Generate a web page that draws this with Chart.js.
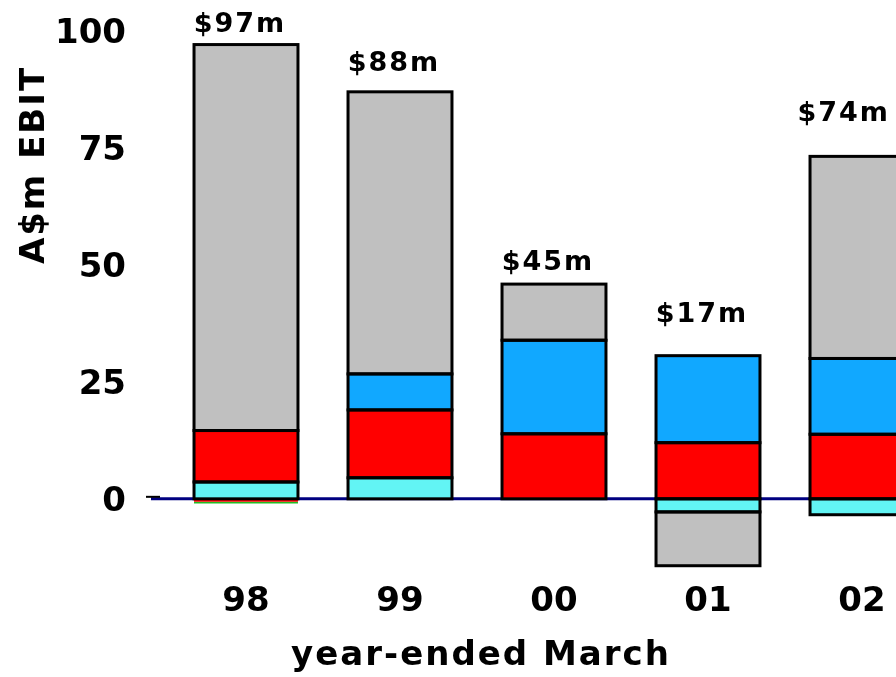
<!DOCTYPE html>
<html>
<head>
<meta charset="utf-8">
<script src="https://cdn.jsdelivr.net/npm/chart.js@4"></script>
<style>
  html, body { margin: 0; padding: 0; background: #fff; overflow: hidden; }
  #wrap { position: relative; width: 945px; height: 677px; }
</style>
</head>
<body>
<div id="wrap"><canvas id="chartEbit"></canvas></div>
<script>
// A$m EBIT por año (year-ended March), barras apiladas

const categories = ['98', '99', '00', '01', '02'];
const yTicks = [0, 25, 50, 75, 100];

// series, de abajo hacia arriba
const cyanVals   = [3.6, 4.5, 0, -2.8, -3.4];
const redVals    = [11, 14.5, 13.9, 12, 13.8];
const redNegVals = [-0.6, 0, 0, 0, 0];
const greenVals  = [-0.4, 0, 0, 0, 0];
const blueVals   = [0, 7.7, 20, 18.6, 16.2];
const greyVals   = [82.5, 60.3, 12, -11.5, 43.2];

// etiquetas de total y altura (A$m) donde van
const totalLabels = ['$97m', '$88m', '$45m', '$17m', '$74m'];
const totalLabelAt = [101.3, 93.0, 50.5, 39.3, 82.3];

const FONT = "'DejaVu Sans', Verdana, sans-serif";

/* ============================================
   PLUGIN: línea cero, contornos, totales y títulos
   ============================================ */
const decor = {
  id: 'decor',
  beforeDatasetsDraw(chart) {
    const { ctx } = chart;
    const y0 = chart.scales.y.getPixelForValue(0);
    ctx.save();
    ctx.strokeStyle = '#000080';
    ctx.lineWidth = 3;
    ctx.beginPath();
    ctx.moveTo(chart.chartArea.left - 18, y0);
    ctx.lineTo(chart.width, y0);
    ctx.stroke();
    // marquita del eje
    ctx.strokeStyle = '#000';
    ctx.lineWidth = 2;
    ctx.beginPath();
    ctx.moveTo(chart.chartArea.left - 23, y0 - 2);
    ctx.lineTo(chart.chartArea.left - 9, y0 - 2);
    ctx.stroke();
    ctx.restore();
  },
  afterDatasetsDraw(chart) {
    const { ctx } = chart;

    // contorno negro de cada segmento
    ctx.save();
    ctx.strokeStyle = '#000';
    ctx.lineWidth = 3;
    chart.data.datasets.forEach((ds, di) => {
      if (ds.outline === false) return;
      chart.getDatasetMeta(di).data.forEach(el => {
        const h = Math.abs(el.y - el.base);
        if (h < 0.5) return;
        ctx.strokeRect(el.x - el.width / 2, Math.min(el.y, el.base), el.width, h);
      });
    });
    ctx.restore();

    // totales
    const meta = chart.getDatasetMeta(0);
    ctx.save();
    ctx.font = `bold 27px ${FONT}`;
    ctx.letterSpacing = '2px';
    ctx.fillStyle = '#000';
    ctx.textAlign = 'center';
    ctx.textBaseline = 'middle';
    totalLabels.forEach((txt, i) => {
      const w = ctx.measureText(txt).width;
      const x = Math.min(meta.data[i].x - 6, 890 - w / 2);
      ctx.fillText(txt, x, chart.scales.y.getPixelForValue(totalLabelAt[i]));
    });
    ctx.restore();
  },
  afterDraw(chart) {
    const { ctx } = chart;
    ctx.save();
    ctx.font = `bold 34px ${FONT}`;
    ctx.letterSpacing = '2px';
    ctx.fillStyle = '#000';
    ctx.textAlign = 'center';
    ctx.textBaseline = 'middle';
    ctx.fillText('year-ended March', 481, 656);
    ctx.translate(35, 165);
    ctx.rotate(-Math.PI / 2);
    ctx.fillText('A$m EBIT', 0, 0);
    ctx.restore();
  }
};

function serie(label, data, color, outline) {
  return {
    label: label,
    data: data,
    backgroundColor: color,
    borderWidth: 0,
    outline: outline,
    barPercentage: 1,
    categoryPercentage: 0.675
  };
}

new Chart(document.getElementById('chartEbit'), {
  type: 'bar',
  data: {
    labels: categories,
    datasets: [
      serie('cyan', cyanVals, '#62F4F4', true),
      serie('red', redVals, '#FF0000', true),
      serie('redNeg', redNegVals, '#FF0000', false),
      serie('green', greenVals, '#22BB22', false),
      serie('blue', blueVals, '#11A8FF', true),
      serie('grey', greyVals, '#C0C0C0', true)
    ]
  },
  options: {
    responsive: true,
    maintainAspectRatio: false,
    animation: false,
    layout: { padding: { top: 31, bottom: 54, left: 0, right: 6 } },
    plugins: {
      legend: { display: false },
      tooltip: { enabled: false }
    },
    scales: {
      x: {
        stacked: true,
        grid: { display: false, drawTicks: false },
        border: { display: false },
        afterFit: (scale) => {
          scale.height = 54;
          scale.paddingLeft = 0;
          scale.paddingRight = 0;
        },
        ticks: {
          color: '#000',
          padding: 13,
          font: { family: FONT, size: 34, weight: 'bold' }
        }
      },
      y: {
        stacked: true,
        min: -15,
        max: 100,
        afterBuildTicks: (scale) => {
          scale.ticks = yTicks.map(v => ({ value: v }));
        },
        afterFit: (scale) => {
          scale.width = 169;
          scale.paddingTop = 0;
          scale.paddingBottom = 0;
        },
        grid: { display: false, drawTicks: false },
        border: { display: false },
        ticks: {
          color: '#000',
          padding: 43,
          labelOffset: 3,
          font: { family: FONT, size: 34, weight: 'bold' }
        }
      }
    }
  },
  plugins: [decor]
});
</script>
</body>
</html>
